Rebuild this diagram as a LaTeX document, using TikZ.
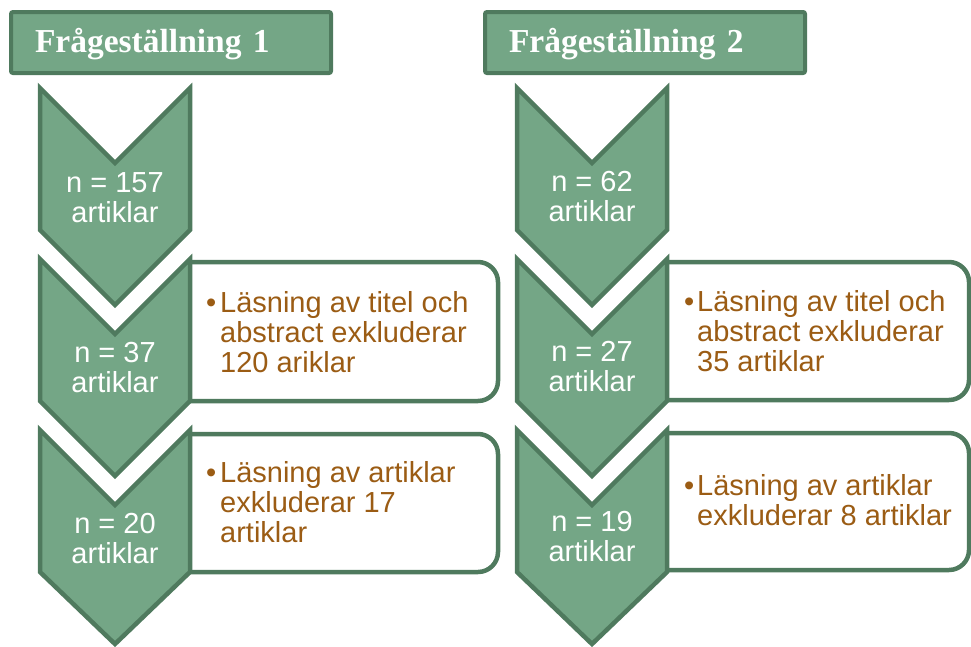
\documentclass[tikz,border=0pt]{standalone}
\usepackage{fontspec}
\setmainfont{Liberation Sans}
\newfontfamily\headfont{Liberation Serif}
\usetikzlibrary{positioning}
\definecolor{chevfill}{RGB}{116,166,134}
\definecolor{chevline}{RGB}{79,122,94}
\definecolor{notebrown}{RGB}{155,92,20}

\begin{document}
\begin{tikzpicture}[x=1pt,y=-1pt,
    chev/.style={draw=chevline, fill=chevfill, line width=4.5pt, line join=miter},
    notebox/.style={draw=chevline, fill=white, line width=4.5pt, rounded corners=20pt},
    head/.style={draw=chevline, fill=chevfill, line width=4pt, rounded corners=2pt, minimum width=320pt, minimum height=61pt, text width=272pt, text height=24pt, text depth=4pt, inner xsep=24pt, align=left, text=white, font=\headfont\bfseries\fontsize{33.5}{36}\selectfont},
    count/.style={text=white, align=center, font=\fontsize{29}{30}\selectfont},
    note/.style={text=notebrown, align=left, anchor=west, inner sep=0pt, font=\fontsize{29}{30}\selectfont}]
            \useasboundingbox (0,0) rectangle (971,646);

            % headers
            \node[head] (fraga1) at (171,42.5) {Frågeställning 1};
            \node[head] (fraga2) at (645,42.5) {Frågeställning 2};

            % boxes with exclusions
            \draw[notebox] (190,262) -- (498,262) -- (498,401) -- (190,401);
            \draw[notebox] (190,434) -- (498,434) -- (498,572) -- (190,572);
            \draw[notebox] (667,262) -- (969,262) -- (969,400) -- (667,400);
            \draw[notebox] (667,433) -- (969,433) -- (969,570) -- (667,570);

            % left chevrons
            \draw[chev] (40,88) -- (115,163) -- (190,88) -- (190,230) -- (115,305) -- (40,230) -- cycle;
            \draw[chev] (40,259) -- (115,334) -- (190,259) -- (190,401) -- (115,476) -- (40,401) -- cycle;
            \draw[chev] (40,430) -- (115,505) -- (190,430) -- (190,572) -- (115,644) -- (40,572) -- cycle;

            % right chevrons
            \draw[chev] (517,88) -- (592,163) -- (667,88) -- (667,230) -- (592,305) -- (517,230) -- cycle;
            \draw[chev] (517,259) -- (592,334) -- (667,259) -- (667,401) -- (592,476) -- (517,401) -- cycle;
            \draw[chev] (517,430) -- (592,505) -- (667,430) -- (667,572) -- (592,644) -- (517,572) -- cycle;

            \node[count] (n157) at (115,198) {n = 157\\artiklar};
            \node[count] (n37) at (115,368) {n = 37\\artiklar};
            \node[count] (n20) at (115,539) {n = 20\\artiklar};
            \node[count] (n62) at (592,197) {n = 62\\artiklar};
            \node[count] (n27) at (592,367) {n = 27\\artiklar};
            \node[count] (n19) at (592,537) {n = 19\\artiklar};

            \node[note] (ex120) at (206,332) {\makebox[14pt][l]{•}Läsning av titel och\\\hspace*{14pt}abstract exkluderar\\\hspace*{14pt}120 ariklar};
            \node[note] (ex17) at (206,502) {\makebox[14pt][l]{•}Läsning av artiklar\\\hspace*{14pt}exkluderar 17\\\hspace*{14pt}artiklar};
            \node[note] (ex35) at (684,331) {\makebox[13pt][l]{•}Läsning av titel och\\\hspace*{13pt}abstract exkluderar\\\hspace*{13pt}35 artiklar};
            \node[note] (ex8) at (684,500) {\makebox[13pt][l]{•}Läsning av artiklar\\\hspace*{13pt}exkluderar 8 artiklar};
        \end{tikzpicture}
\end{document}
